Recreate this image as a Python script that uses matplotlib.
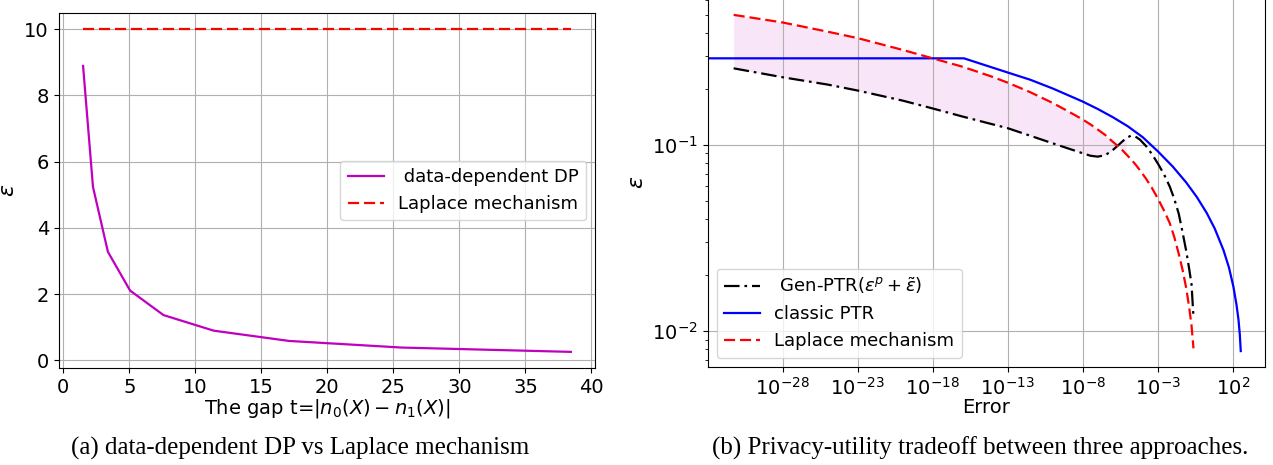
import numpy as np
import matplotlib
matplotlib.use("Agg")
import matplotlib.pyplot as plt
from matplotlib.ticker import NullLocator

# (a) data-dependent DP vs Laplace
gap_t = [1.5, 2.25, 3.38, 5.06, 7.59, 11.39, 17.09, 25.63, 38.44]
eps_data_dep = [8.89, 5.24, 3.28, 2.11, 1.37, 0.90, 0.59, 0.39, 0.26]
eps_laplace_a = [10, 10, 10, 10, 10, 10, 10, 10, 10]

# (b) privacy-utility tradeoff (error on x, epsilon on y)
err_shared = [5.4e-32, 1e-28, 1e-25, 1e-23, 1e-20, 1e-18, 1e-16, 1e-14, 1e-13,
              3.2e-12, 1e-10, 1e-9, 1e-8, 3.2e-8, 1e-7, 3.2e-7, 1e-6, 3.2e-6,
              7.9e-6, 1.6e-5, 3.2e-5, 6.3e-5, 1.6e-4, 4e-4, 1e-3, 2.5e-3,
              6.3e-3, 0.0126, 0.025, 0.045, 0.079, 0.126, 0.178, 0.24]
eps_laplace_b = [0.500, 0.455, 0.406, 0.375, 0.324, 0.292, 0.263, 0.232, 0.216,
                 0.192, 0.168, 0.152, 0.137, 0.129, 0.121, 0.113, 0.104, 0.0962,
                 0.0891, 0.0839, 0.0787, 0.0733, 0.0661, 0.0589, 0.0516, 0.0447,
                 0.0380, 0.0320, 0.0260, 0.0213, 0.0170, 0.0133, 0.0107, 0.00807]
eps_gen_ptr = [0.258, 0.231, 0.211, 0.196, 0.173, 0.157, 0.142, 0.129, 0.123,
               0.112, 0.102, 0.0959, 0.0902, 0.0875, 0.0865, 0.0881, 0.0938,
               0.102, 0.109, 0.112, 0.111, 0.107, 0.0989, 0.0895, 0.0796, 0.0700,
               0.0597, 0.0513, 0.0427, 0.0339, 0.0269, 0.0214, 0.0178, 0.0119]
err_classic = [1e-33, 1.2e-16, 3.2e-15, 1e-13, 3.2e-12, 1e-10, 1e-8, 1e-7, 1e-6,
               1e-5, 1e-4, 1e-3, 1e-2, 0.079, 0.4, 1.86, 6.3, 24, 56, 110, 178,
               240, 295, 340]
eps_classic = [0.292, 0.292, 0.268, 0.245, 0.224, 0.201, 0.171, 0.156, 0.141,
               0.126, 0.110, 0.0925, 0.0765, 0.0628, 0.0525, 0.0430, 0.0355,
               0.0272, 0.0219, 0.0173, 0.0138, 0.0115, 0.00955, 0.0078]
n_fill = 19  # shaded region ends around 1e-5

fig = plt.figure(figsize=(12.73, 4.65), dpi=100)

ax1 = fig.add_axes([0.0461, 0.2086, 0.4215, 0.7634])
ax1.plot(gap_t, eps_data_dep, color="m", lw=1.6, label=" data-dependent DP")
ax1.plot(gap_t, eps_laplace_a, "r--", lw=1.6, dashes=(5, 2.2), label="Laplace mechanism")
ax1.grid(True)
ax1.tick_params(labelsize=14)
ax1.set_xlabel(r"The gap t=$|n_0(X)-n_1(X)|$", fontsize=14, labelpad=0)
ax1.set_ylabel(r"$\varepsilon$", fontsize=16)
ax1.yaxis.set_label_coords(-0.075, 0.5)
ax1.legend(loc="center right", fontsize=13)

ax2 = fig.add_axes([0.5559, 0.2114, 0.4378, 0.7929])
ax2.fill_between(err_shared[:n_fill], eps_gen_ptr[:n_fill], eps_laplace_b[:n_fill],
                 color="m", alpha=0.1, lw=0)
ax2.plot(err_shared, eps_gen_ptr, "k-.", lw=1.6, dashes=(7, 2.2, 1.2, 2.2),
         label=r" Gen-PTR($\varepsilon^p+\tilde{\varepsilon}$)")
ax2.plot(err_classic, eps_classic, "b-", lw=1.6, label="classic PTR")
ax2.plot(err_shared, eps_laplace_b, "r--", lw=1.6, dashes=(5, 2.2),
         label="Laplace mechanism")
ax2.set_xscale("log")
ax2.set_yscale("log")
ax2.set_xlim(1e-33, 1.4e4)
ax2.set_ylim(6.43e-3, 0.616)
ax2.set_xticks([1e-28, 1e-23, 1e-18, 1e-13, 1e-8, 1e-3, 1e2])
ax2.xaxis.set_minor_locator(NullLocator())
ax2.grid(True, which="major")
ax2.tick_params(labelsize=14)
ax2.set_xlabel("Error", fontsize=14, labelpad=0)
ax2.set_ylabel(r"$\varepsilon$", fontsize=16)
ax2.legend(loc="lower left", fontsize=13)

fig.text(300 / 1273, 0.022, "(a) data-dependent DP vs Laplace mechanism",
         family="Liberation Serif", fontsize=18, ha="center")
fig.text(980 / 1273, 0.022, "(b) Privacy-utility tradeoff between three approaches.",
         family="Liberation Serif", fontsize=18, ha="center")

fig.savefig("out.png", dpi=100)
